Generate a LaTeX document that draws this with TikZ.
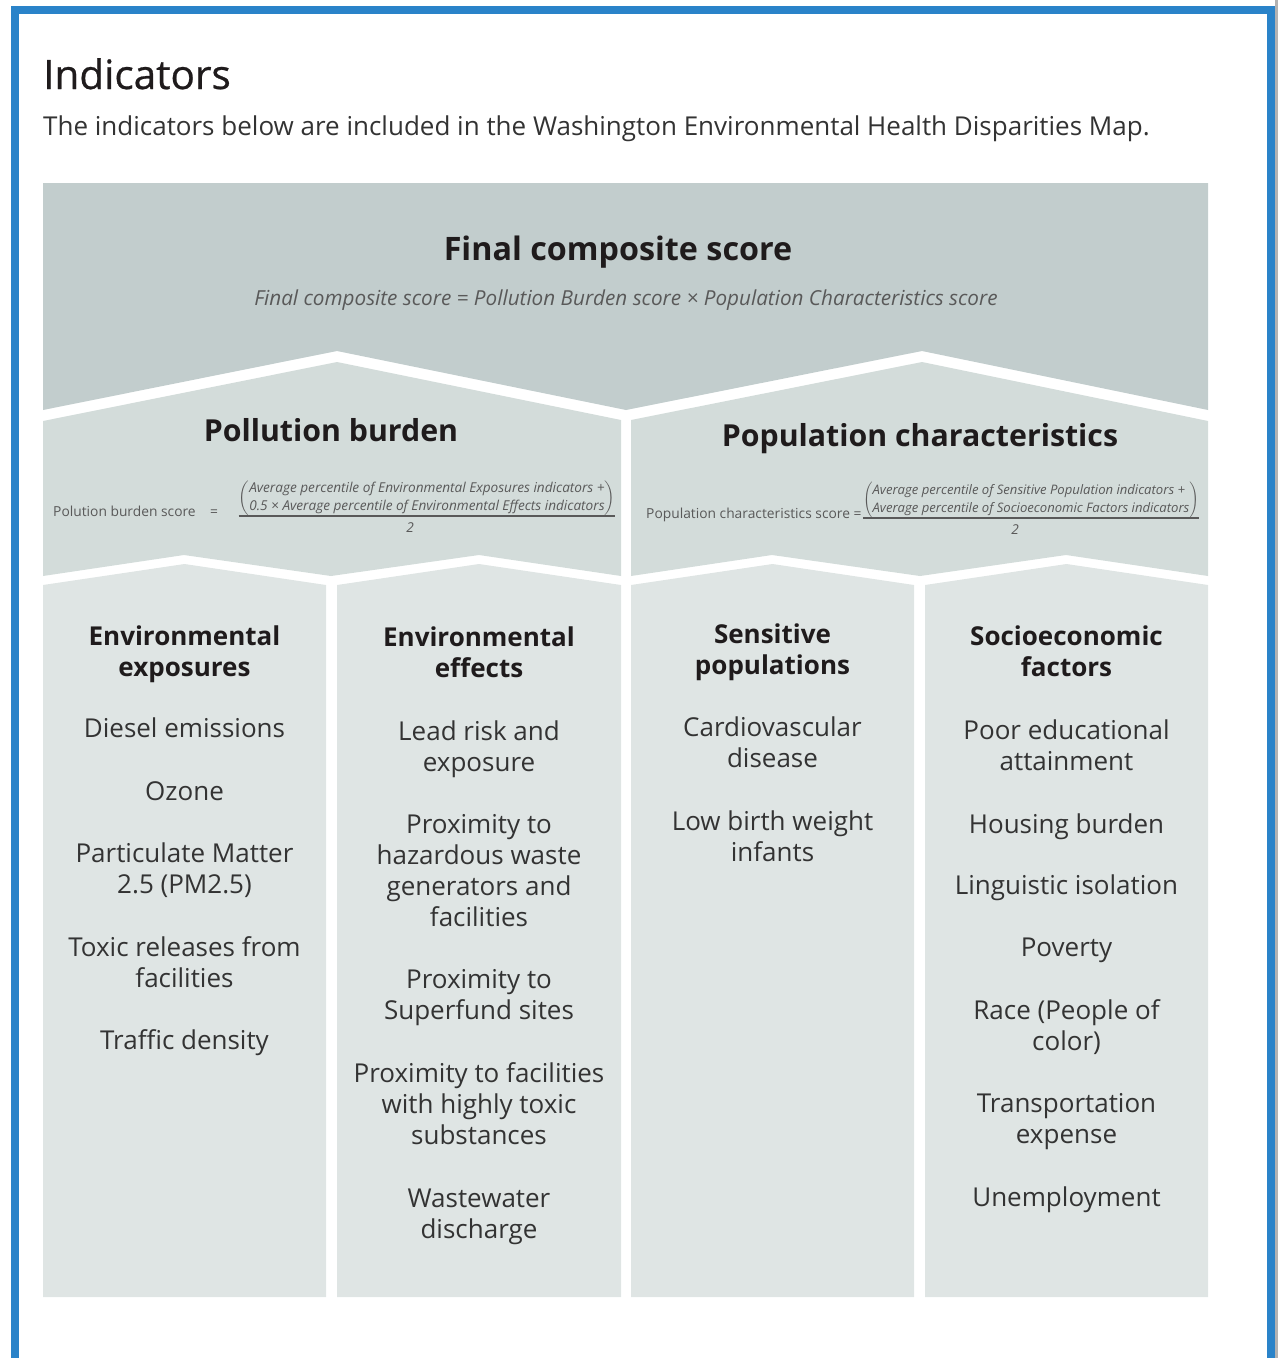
\documentclass[tikz,border=0pt]{standalone}
\usepackage{fontspec}
\setmainfont{Open Sans}
\usepackage{amsmath}
\usetikzlibrary{positioning}

\definecolor{framebl}{HTML}{2A83C9}
\definecolor{topband}{HTML}{C2CDCD}
\definecolor{midband}{HTML}{D3DCDA}
\definecolor{colband}{HTML}{DFE5E4}
\definecolor{inkdark}{HTML}{1F1B1C}
\definecolor{inkitem}{HTML}{333333}
\definecolor{inkgray}{HTML}{595959}

\tikzset{
  headtxt/.style={font=\fontsize{26}{31}\selectfont\bfseries, text=inkdark, align=center, anchor=base, inner sep=0pt},
  itemtxt/.style={font=\fontsize{26}{31}\selectfont, text=inkitem, align=center, anchor=base, inner sep=0pt},
  bandtitle/.style={font=\fontsize{30.3}{36}\selectfont\bfseries, text=inkdark, anchor=base, inner sep=0pt},
  scoretxt/.style={font=\fontsize{13.8}{17}\selectfont, text=inkgray, anchor=base west, inner sep=0pt},
  numtxt/.style={font=\fontsize{13.6}{18}\selectfont\itshape, text=inkgray, inner sep=0pt},
}

\begin{document}
\begin{tikzpicture}[x=1pt,y=-1pt]
  \useasboundingbox (0,0) rectangle (1278,1358);
  \clip (0,0) rectangle (1278,1358);
  % frame
  \draw[line width=3pt,black!30] (1276.5,0)--(1276.5,1358);
  \draw[line width=8pt,framebl] (15,10) rectangle (1271,1362);
  % heading
  \node[anchor=base west,inner sep=0pt,font=\fontsize{40.5}{44}\selectfont\addfontfeature{FakeBold=0.6},text=inkdark] (title) at (43,89) {Indicators};
  \node[anchor=base west,inner sep=0pt,font=\fontsize{26}{30}\selectfont,text=inkitem] (intro) at (43,135)
    {The indicators below are included in the Washington Environmental Health Disparities Map.};
  % bands
  \fill[topband] (43,183)--(1208,183)--(1208,410)--(922,351)--(626,410)--(337,351)--(43,410)--cycle;
  \fill[midband] (43,421)--(337,362)--(621,420)--(621,576)--(479,555)--(331,576)--(184,555)--(43,576)--cycle;
  \fill[midband] (631,420)--(922,362)--(1208,421)--(1208,576)--(1066,555)--(920,576)--(772,555)--(631,576)--cycle;
  \foreach \a/\b in {43/326,337/621,631/914,925/1208}
    \fill[colband] (\a,585)--({(\a+\b)/2},564)--(\b,585)--(\b,1297)--(\a,1297)--cycle;
  % final score
  \node[bandtitle,font=\fontsize{32.3}{38}\selectfont\bfseries] (final) at (618,260) {Final composite score};
  \node[font=\fontsize{20.7}{24}\selectfont\itshape,text=inkgray,anchor=base,inner sep=0pt] (finaleq) at (626,305)
    {Final composite score = Pollution Burden score × Population Characteristics score};
  % pollution burden
  \node[bandtitle] (pb) at (331,441) {Pollution burden};
  \node[scoretxt] (pbscore) at (53,516) {Polution burden score};
  \node[scoretxt] (pbeq) at (210,516) {=};
  \node[numtxt] (pbnum) at (427,498) {$\left(\begin{tabular}{@{}l@{}}Average percentile of Environmental Exposures indicators +\\
    0.5 × Average percentile of Environmental Effects indicators\end{tabular}\right)$};
  \draw[inkgray,line width=1.6pt] (pbnum.south west)--(pbnum.south east);
  \node[numtxt,below=6pt of pbnum,xshift=-17pt] (pbtwo) {2};
  % population characteristics
  \node[bandtitle] (pc) at (920,446) {Population characteristics};
  \node[scoretxt] (pcscore) at (646,518) {Population characteristics score =};
  \node[numtxt,font=\fontsize{13.1}{17.5}\selectfont\itshape] (pcnum) at (1031,500) {$\left(\begin{tabular}{@{}l@{}}Average percentile of Sensitive Population indicators +\\
    Average percentile of Socioeconomic Factors indicators\end{tabular}\right)$};
  \draw[inkgray,line width=1.6pt] (pcnum.south west)--(pcnum.south east);
  \node[numtxt,below=6pt of pcnum,xshift=-16pt] (pctwo) {2};
  % columns (base = last line)
  \node[headtxt] (ee) at (184.5,676) {Environmental\\exposures};
  \node[headtxt] (ef) at (479,677) {Environmental\\effects};
  \node[headtxt] (sp) at (772.5,674) {Sensitive\\populations};
  \node[headtxt] (sf) at (1066.5,676) {Socioeconomic\\factors};
  \foreach \y/\t [count=\i] in {737/Diesel emissions, 800/Ozone, 893/{Particulate Matter\\2.5 (PM2.5)},
      987/{Toxic releases from\\facilities}, 1049/Traffic density}
    \node[itemtxt] (ee-\i) at (184.5,\y) {\t};
  \foreach \y/\t [count=\i] in {771/{Lead risk and\\exposure}, 926/{Proximity to\\hazardous waste\\generators and\\facilities},
      1019/{Proximity to\\Superfund sites}, 1144/{Proximity to facilities\\with highly toxic\\substances},
      1238/{Wastewater\\discharge}}
    \node[itemtxt] (ef-\i) at (479,\y) {\t};
  \foreach \y/\t [count=\i] in {767/{Cardiovascular\\disease}, 861/{Low birth weight\\infants}}
    \node[itemtxt] (sp-\i) at (772.5,\y) {\t};
  \foreach \y/\t [count=\i] in {770/{Poor educational\\attainment}, 833/Housing burden, 894/Linguistic isolation,
      956/Poverty, 1050/{Race (People of\\color)}, 1143/{Transportation\\expense}, 1206/Unemployment}
    \node[itemtxt] (sf-\i) at (1066.5,\y) {\t};
\end{tikzpicture}
\end{document}
